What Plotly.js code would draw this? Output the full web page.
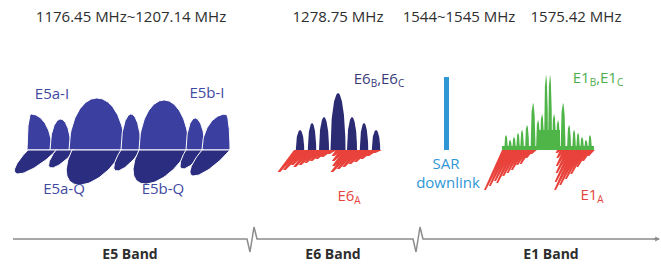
<!DOCTYPE html>
<html><head><meta charset="utf-8">
<script src="https://cdn.plot.ly/plotly-3.0.1.min.js"></script>
<style>html,body{margin:0;padding:0;background:#fff}#chart{width:661px;height:265px}</style>
</head><body><div id="chart"></div>
<script>
// ================= DATA =================
// Frequency labels (top) and band names (bottom)
const freqLabels = ['1176.45 MHz~1207.14 MHz', '1278.75 MHz', '1544~1545 MHz', '1575.42 MHz'];
const bandNames = ['E5 Band', 'E6 Band', 'E1 Band'];

// E5 in-phase (I) lobes : left edge, peak position, right edge, height
const e5I_left   = [27, 50, 69, 121, 139, 186, 202];
const e5I_peak   = [31, 60.5, 97, 131, 164, 195, 226];
const e5I_right  = [52, 71, 125, 141, 189, 205, 230];
const e5I_height = [36, 31, 52, 36, 50, 32, 36];

// E5 quadrature (Q) lobes : left edge, right edge, depth, lean
const e5Q_left  = [28, 56, 72, 121, 139, 186, 202];
const e5Q_right = [57, 75, 123, 141, 188, 204, 230];
const e5Q_depth = [24, 18, 35, 21, 34, 19, 26];
const e5Q_lean  = [24, 14, 18, 14, 18, 12, 22];

// E6 B/C lobes : centre, half width, height
const e6BC_center = [300, 312, 324, 338, 352, 364, 376];
const e6BC_half   = [4.2, 4.2, 5, 7.5, 5, 4.2, 4.2];
const e6BC_height = [20, 27, 33, 57, 33, 27, 20];

// E6 A strands : start, depth
const e6A_start = [294, 298, 302, 306, 310, 314, 318, 322, 326, 330,
                   336, 340, 344, 347, 351, 355, 359, 363, 367, 371, 375];
const e6A_depth = [22, 20, 15, 17, 15, 13, 11, 9, 7, 4,
                   6, 11, 16, 22, 19, 17, 14, 12, 9, 6, 3];
const e6A_lean = 0.75;

// E1 B/C spectral lines : centre, half width, height
const e1BC_center = [506, 510, 514, 518, 522, 527, 533, 538, 542, 546, 550, 554, 558, 563, 569, 574, 578, 582, 586, 590];
const e1BC_half   = [1.8, 1.8, 1.8, 1.8, 1.8, 2, 2.4, 2, 2, 2, 2, 2, 2, 2.4, 2, 1.8, 1.8, 1.8, 1.8, 1.8];
const e1BC_height = [15, 10, 13, 17, 20, 25, 47, 30, 36, 75, 75, 36, 30, 47, 25, 20, 17, 13, 10, 15];
const e1BC_floor = {from: 502, to: 594, level: 4};
const e1BC_plateau = {from: 538, to: 560, level: 20};

// E1 A strands : start, depth
const e1A_start = [502, 505, 508, 511, 514, 517, 520, 523, 526, 529, 532,
                   557, 560, 563, 566, 569, 572, 575, 578, 581, 584, 587, 590];
const e1A_depth = [40, 36, 31, 33, 26, 23, 20, 15, 14, 8, 4,
                   3, 8, 16, 23, 32, 40, 35, 29, 24, 17, 11, 6];
const e1A_lean = 0.45;

// SAR downlink
const sarX = 446.5;
const sarLevel = 73;

// Signal labels (plain)
const plainLabels = ['E5a-I', 'E5b-I', 'E5a-Q', 'E5b-Q', 'SAR', 'downlink'];
// Signal labels with subscripts: [text, isSubscript] pieces
const subLabels = [
  [['E6', 0], ['B', 1], [',E6', 0], ['C', 1]],
  [['E6', 0], ['A', 1]],
  [['E1', 0], ['B', 1], [',E1', 0], ['C', 1]],
  [['E1', 0], ['A', 1]]
];

// ================= BUILDERS =================
const C = {
  e5I: '#3b3f9f', e5Q: '#2b2d80', e6BC: '#2b2b73', red: '#e8423b',
  green: '#4fb548', sar: '#2f97d5', txt: '#2e2e2e', axis: '#8c8c8c',
  e5txt: '#3f4aa2', e6txt: '#3b3b7a', redtxt: '#e4453e', greentxt: '#4cae4c'
};
const traces = [];

function dome(x0, xp, x1, h) {
  const xs = [], ys = [], n = 40;
  for (let i = 0; i <= n; i++) {
    const x = x0 + (xp - x0) * i / n;
    const u = xp - x0 > 0 ? (xp - x) / (xp - x0) : 0;
    xs.push(x); ys.push(h * Math.sqrt(Math.max(0, 1 - u * u)));
  }
  for (let i = 1; i <= n; i++) {
    const x = xp + (x1 - xp) * i / n;
    const u = x1 - xp > 0 ? (x - xp) / (x1 - xp) : 0;
    xs.push(x); ys.push(h * Math.sqrt(Math.max(0, 1 - u * u)));
  }
  xs.push(x0); ys.push(0);
  return {xs, ys};
}
function leanLobe(x0, x1, d, lean) {
  const xs = [], ys = [], n = 50;
  const xc = (x0 + x1) / 2, hw = (x1 - x0) / 2;
  for (let i = 0; i <= n; i++) {
    const t = Math.PI * i / n;
    xs.push(xc + hw * Math.cos(t) - lean * Math.sin(t));
    ys.push(-d * Math.sin(t));
  }
  xs.push(x1); ys.push(0);
  return {xs, ys};
}
function strand(s, d, lean, w) {
  const tx = s - lean * d;
  return {xs: [s, s + w, tx + w * 0.4, tx, s], ys: [0, 0, -d, -d, 0]};
}
function addPoly(p, color, line) {
  traces.push({type: 'scatter', mode: 'lines', x: p.xs, y: p.ys, fill: 'toself',
    fillcolor: color, line: line || {width: 0, color: color}, hoverinfo: 'skip'});
}

// E5 I
for (let i = 0; i < e5I_left.length; i++)
  addPoly(dome(e5I_left[i], e5I_peak[i], e5I_right[i], e5I_height[i]), C.e5I, {color: '#ffffff', width: 1});
// E5 Q
for (let i = 0; i < e5Q_left.length; i++)
  addPoly(leanLobe(e5Q_left[i], e5Q_right[i], e5Q_depth[i], e5Q_lean[i]), C.e5Q, {color: '#ffffff', width: 1});
// E6 BC
for (let i = 0; i < e6BC_center.length; i++)
  addPoly(dome(e6BC_center[i] - e6BC_half[i], e6BC_center[i], e6BC_center[i] + e6BC_half[i], e6BC_height[i]), C.e6BC);
// E6 A
for (let i = 0; i < e6A_start.length; i++)
  addPoly(strand(e6A_start[i], e6A_depth[i], e6A_lean, 7), C.red);
// E1 BC
addPoly({xs: [e1BC_floor.from, e1BC_floor.to, e1BC_floor.to, e1BC_floor.from, e1BC_floor.from],
         ys: [0, 0, e1BC_floor.level, e1BC_floor.level, 0]}, C.green);
addPoly({xs: [e1BC_plateau.from, e1BC_plateau.to, e1BC_plateau.to, e1BC_plateau.from, e1BC_plateau.from],
         ys: [0, 0, e1BC_plateau.level, e1BC_plateau.level, 0]}, C.green);
for (let i = 0; i < e1BC_center.length; i++)
  addPoly(dome(e1BC_center[i] - e1BC_half[i], e1BC_center[i], e1BC_center[i] + e1BC_half[i], e1BC_height[i]), C.green);
// E1 A
for (let i = 0; i < e1A_start.length; i++)
  addPoly(strand(e1A_start[i], e1A_depth[i], e1A_lean, 4.8), C.red);
// SAR
traces.push({type: 'scatter', mode: 'lines', x: [sarX, sarX], y: [0, sarLevel],
  line: {color: C.sar, width: 5}, hoverinfo: 'skip'});

// ================= TEXT =================
const F = 'Open Sans, Noto Sans, sans-serif';
const MAIN = 15, SUB = 10;
traces.push({type: 'scatter', mode: 'text', x: [131, 338, 459, 576], y: [132, 132, 132, 132],
  text: freqLabels, textposition: 'middle center', hoverinfo: 'skip',
  textfont: {family: F, size: 15, color: C.txt}});
traces.push({type: 'scatter', mode: 'text', x: [130, 333, 551], y: [-105, -105, -105],
  text: bandNames, textposition: 'middle center', hoverinfo: 'skip',
  textfont: {family: F, size: 14, color: C.txt, weight: 'bold'}});
traces.push({type: 'scatter', mode: 'text',
  x: [52, 207, 64, 163, 446, 448],
  y: [55, 56, -40, -40, -15, -34],
  text: plainLabels, textposition: 'middle center', hoverinfo: 'skip',
  textfont: {family: F, size: MAIN, color: [C.e5txt, C.e5txt, C.e5txt, C.e5txt, C.sar, C.sar]}});

// subscripted labels built from pieces, measured with a canvas
const ctx = document.createElement('canvas').getContext('2d');
function tw(t, size) { ctx.font = size + 'px "Open Sans"'; return ctx.measureText(t).width; }
const subPos = [[379, 70], [349, -47], [598, 71], [592, -46]];
const subCol = [C.e6txt, C.redtxt, C.greentxt, C.redtxt];
subLabels.forEach((pieces, k) => {
  const widths = pieces.map(p => tw(p[0], p[1] ? SUB : MAIN));
  const total = widths.reduce((a, b) => a + b, 0);
  let x = subPos[k][0] - total / 2;
  const mx = [], my = [], mt = [], sx = [], sy = [], st = [];
  pieces.forEach((p, i) => {
    const cx = x + widths[i] / 2;
    if (p[1]) { sx.push(cx); sy.push(subPos[k][1] - 4); st.push(p[0]); }
    else { mx.push(cx); my.push(subPos[k][1]); mt.push(p[0]); }
    x += widths[i];
  });
  traces.push({type: 'scatter', mode: 'text', x: mx, y: my, text: mt, textposition: 'middle center',
    hoverinfo: 'skip', textfont: {family: F, size: MAIN, color: subCol[k]}});
  traces.push({type: 'scatter', mode: 'text', x: sx, y: sy, text: st, textposition: 'middle center',
    hoverinfo: 'skip', textfont: {family: F, size: SUB, color: subCol[k]}});
});

// Frequency axis with breaks
const bandBreaks = [250, 416];
const axY = -89;
let path = 'M 13,' + axY;
bandBreaks.forEach(b => {
  path += ` L ${b - 3},${axY} L ${b},${axY - 13} L ${b + 4},${axY + 12} L ${b + 7},${axY}`;
});
path += ` L 659,${axY}`;

const layout = {
  width: 661, height: 265, margin: {l: 0, r: 0, t: 0, b: 0},
  paper_bgcolor: '#ffffff', plot_bgcolor: '#ffffff', showlegend: false,
  xaxis: {range: [0, 661], visible: false, fixedrange: true},
  yaxis: {range: [-115, 150], visible: false, fixedrange: true},
  annotations: [{x: 660, y: axY, ax: 652, ay: axY, axref: 'x', ayref: 'y', text: '', showarrow: true,
    arrowhead: 2, arrowsize: 0.8, arrowwidth: 1.2, arrowcolor: C.axis}],
  shapes: [{type: 'path', path: path, line: {color: C.axis, width: 1.5}}]
};
Plotly.newPlot('chart', traces, layout, {staticPlot: true, displayModeBar: false});
</script></body></html>
